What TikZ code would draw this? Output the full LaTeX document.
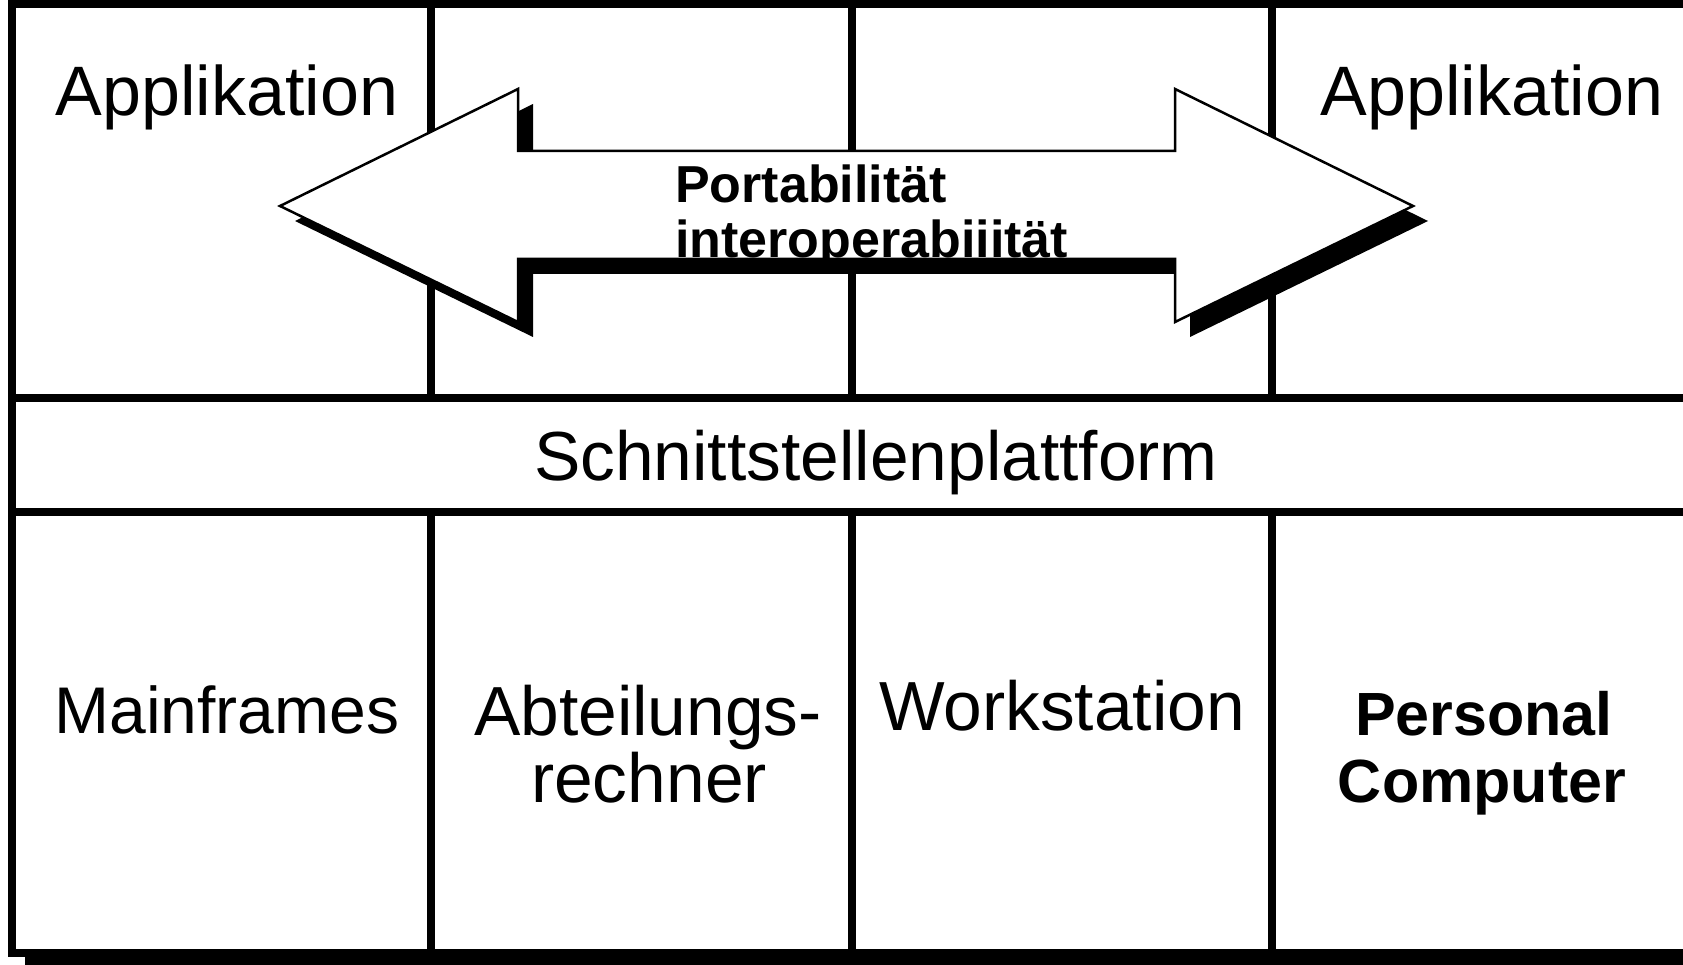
\documentclass[tikz,border=0pt]{standalone}
\usepackage{fontspec}
\setmainfont{Liberation Sans}
\begin{document}
\begin{tikzpicture}[x=1pt,y=-1pt,line join=miter,
  frameline/.style={line width=7.5pt,line cap=rect},
  lbl/.style={inner sep=0pt,anchor=base,font=\fontsize{69.5}{69.5}\selectfont},
  blbl/.style={inner sep=0pt,anchor=base,font=\bfseries\fontsize{61}{61}\selectfont},
  arrowtxt/.style={inner sep=0pt,anchor=base west,font=\bfseries\fontsize{52}{52}\selectfont}]
\useasboundingbox (0,0) rectangle (1683,965);
\clip (0,0) rectangle (1683,965);
\fill[white] (0,0) rectangle (1683,965);
% frame shadow
\fill[black] (25,950) rectangle (1700,980);
% frame
\draw[frameline] (1700,4) -- (12,4) -- (12,953) -- (1700,953);
\draw[frameline] (12,398) -- (1700,398);
\draw[frameline] (12,512) -- (1700,512);
\foreach \x in {431,852,1272}{
  \draw[frameline] (\x,4) -- (\x,398);
  \draw[frameline] (\x,512) -- (\x,953);
}
% double arrow with shadow
\def\arrowpath{(280,206) -- (518,89) -- (518,151) -- (1175,151) -- (1175,89) -- (1413,206) -- (1175,322) -- (1175,259) -- (518,259) -- (518,322) -- cycle}
\fill[black,shift={(15,15)}] \arrowpath;
\filldraw[fill=white,draw=black,line width=2.5pt] \arrowpath;
% texts
\node[lbl,font=\fontsize{70}{70}\selectfont] (app1) at (227,116) {Applikation};
\node[lbl,font=\fontsize{70}{70}\selectfont] (app2) at (1492,116) {Applikation};
\node[arrowtxt] (port) at (675,203) {Portabilität};
\node[arrowtxt] (inter) at (675,258) {interoperabiiität};
\node[lbl] (sch) at (876,480) {Schnittstellenplattform};
\node[lbl,font=\fontsize{66}{66}\selectfont] (main) at (227,733) {Mainframes};
\node[lbl] (abt1) at (648,735) {Abteilungs-};
\node[lbl] (abt2) at (649,802) {rechner};
\node[lbl] (ws) at (1062,730) {Workstation};
\node[blbl] (pc1) at (1484,735) {Personal};
\node[blbl] (pc2) at (1482,802) {Computer};
\end{tikzpicture}
\end{document}
